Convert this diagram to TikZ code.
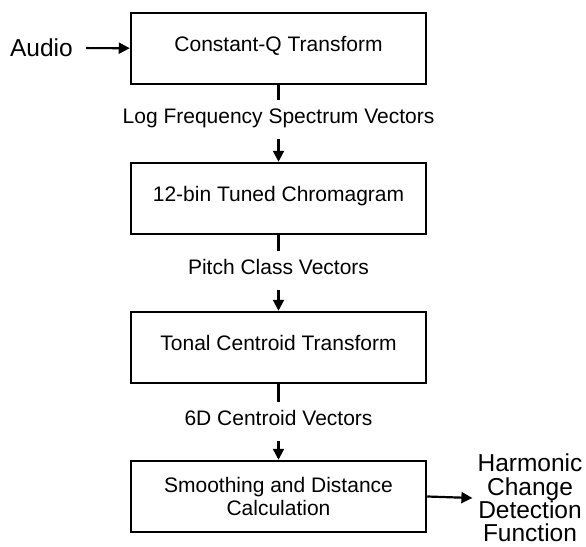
\documentclass[tikz,border=0pt]{standalone}
\usepackage{fontspec}
\setmainfont{Liberation Sans}
\usetikzlibrary{arrows.meta}
\begin{document}
\begin{tikzpicture}[x=1pt,y=-1pt,
  box/.style={draw,line width=2.5pt,minimum width=295pt,minimum height=71pt,inner sep=0pt,
    font=\fontsize{21}{23}\selectfont,text height=15pt,text depth=9pt,align=center},
  box2l/.style={draw,line width=2.5pt,minimum width=295pt,minimum height=71pt,inner sep=0pt,
    font=\fontsize{21}{23}\selectfont,align=center},
  lab/.style={font=\fontsize{21}{23}\selectfont,text height=15pt,text depth=4pt,inner xsep=2pt,inner ysep=8.5pt,anchor=base},
  big/.style={font=\fontsize{24.5}{23.4}\selectfont,align=center,inner sep=5pt},
  conn/.style={line width=2.2pt},
  arr/.style={line width=2.2pt,-{Triangle[length=11pt,width=11pt]}}]
\useasboundingbox (0,0) rectangle (586,546);
\node[box] (b1) at (278.5,48.5) {Constant-Q Transform};
\node[box] (b2) at (278.5,198.5) {12-bin Tuned Chromagram};
\node[box] (b3) at (278.5,347.5) {Tonal Centroid Transform};
\node[box2l] (b4) at (278.5,496.5) {Smoothing and Distance\\Calculation};
\node[lab] (l1) at (278.5,123.5) {Log Frequency Spectrum Vectors};
\node[lab] (l2) at (278.5,274.5) {Pitch Class Vectors};
\node[lab] (l3) at (278.5,425.5) {6D Centroid Vectors};
\node[big,anchor=east] (audio) at (78,48) {Audio};
\node[big] (hcdf) at (530,498) {Harmonic\\Change\\Detection\\Function};
\draw[arr,shorten <=8pt] (audio) -- (b1);
\draw[conn] (b1.south) -- (l1.north);
\draw[arr,shorten <=3pt] (l1.south) -- (b2.north);
\draw[conn] (b2.south) -- (l2.north);
\draw[arr,shorten <=3pt] (l2.south) -- (b3.north);
\draw[conn] (b3.south) -- (l3.north);
\draw[arr,shorten <=3pt] (l3.south) -- (b4.north);
\draw[arr] (b4.east) -- (hcdf.west);
\end{tikzpicture}
\end{document}
